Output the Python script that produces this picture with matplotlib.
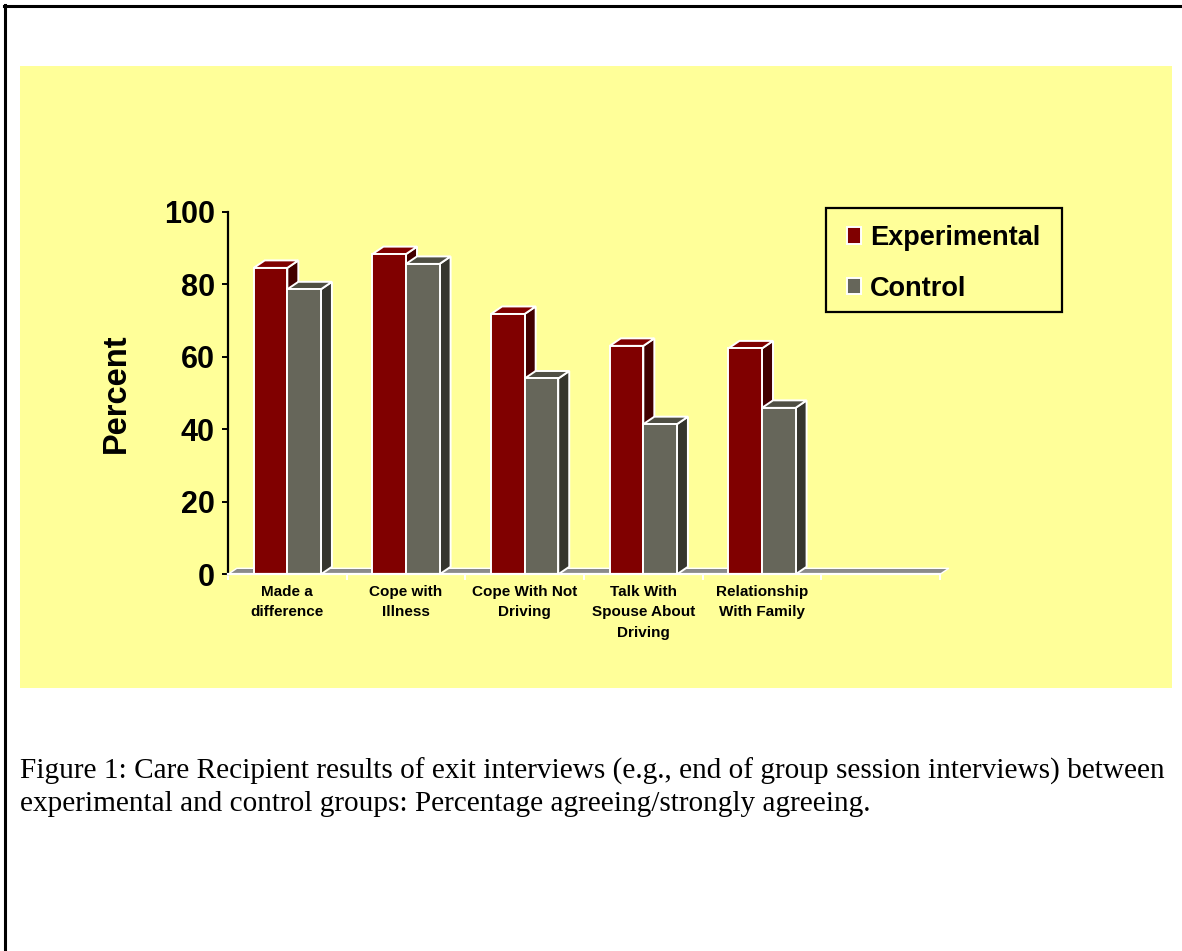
import numpy as np
import matplotlib
matplotlib.use("Agg")
import matplotlib.pyplot as plt
from matplotlib.patches import Polygon, Rectangle, Patch
from matplotlib.lines import Line2D

categories = ["Made a\ndifference", "Cope with\nIllness", "Cope With Not\nDriving",
              "Talk With\nSpouse About\nDriving", "Relationship\nWith Family", ""]
experimental = [84.5, 88.3, 71.8, 63.0, 62.3]
control = [78.6, 85.6, 54.0, 41.4, 45.9]
yticks = [0, 20, 40, 60, 80, 100]
series_names = ["Experimental", "Control"]
caption = ["Figure 1: Care Recipient results of exit interviews (e.g., end of group session interviews) between",
           "experimental and control groups: Percentage agreeing/strongly agreeing."]

W, H = 1182, 951
fig = plt.figure(figsize=(W / 100, H / 100), dpi=100)
fig.patch.set_facecolor("white")


def fx(px):
    return px / W


def fy(py):
    return 1 - py / H


sans = "Liberation Sans"

# page border (top + left) and yellow chart area
fig.add_artist(Line2D([fx(4), 1], [fy(6), fy(6)], color="black", lw=2.2, transform=fig.transFigure))
fig.add_artist(Line2D([fx(5), fx(5)], [fy(5), 0], color="black", lw=2.2, transform=fig.transFigure))
fig.add_artist(Rectangle((fx(20), fy(688)), fx(1172) - fx(20), fy(66) - fy(688),
                         transform=fig.transFigure, facecolor="#FFFF99", edgecolor="none", zorder=-1))

ax = fig.add_axes([fx(228), fy(574.3), (940 - 228) / W, (574.3 - 211.7) / H])
ax.set_facecolor("none")
ax.set_xlim(0, len(categories))
ax.set_ylim(0, 100)

# 3d depth in data units (about 11 px right, 7.5 px up)
dx = 11 / (712 / len(categories))
dy = 7.5 / 3.626
bw = 0.283

# floor
ax.add_patch(Polygon([(0, 0), (len(categories), 0), (len(categories) + dx * 0.8, dy * 0.8), (dx * 0.8, dy * 0.8)],
                     closed=True, facecolor="#8a8a8a", edgecolor="white", lw=1.0, zorder=1, clip_on=False))


def bar3d(vals, offset, front, top, side, z):
    centers = np.arange(len(vals)) + 0.5
    bars = ax.bar(centers + offset, vals, bw, align="edge", color=front, edgecolor="white",
                  linewidth=1.4, zorder=z + 1)
    for b in bars:
        x0, x1, h = b.get_x(), b.get_x() + b.get_width(), b.get_height()
        ax.add_patch(Polygon([(x1, 0), (x1 + dx, dy), (x1 + dx, h + dy), (x1, h)], closed=True,
                             facecolor=side, edgecolor="white", lw=1.4, zorder=z, clip_on=False))
        ax.add_patch(Polygon([(x0, h), (x1, h), (x1 + dx, h + dy), (x0 + dx, h + dy)], closed=True,
                             facecolor=top, edgecolor="white", lw=1.4, zorder=z, clip_on=False))
    return bars


bar3d(experimental, -bw, "#800000", "#800000", "#420000", 2)
bar3d(control, 0.0, "#66665A", "#4F4F44", "#35352E", 4)

# axes styling
for s in ["top", "right"]:
    ax.spines[s].set_visible(False)
ax.spines["left"].set_color("black")
ax.spines["left"].set_linewidth(1.6)
ax.spines["bottom"].set_color("white")
ax.spines["bottom"].set_linewidth(1.6)
ax.spines["bottom"].set_zorder(8)

ax.set_yticks(yticks)
ax.set_yticklabels([str(t) for t in yticks], fontfamily=sans, fontweight="bold", fontsize=22)
ax.tick_params(axis="y", direction="out", length=4.5, width=1.4, color="black", pad=5)

ax.set_xticks(np.arange(len(categories) + 1))
ax.set_xticklabels([])
ax.tick_params(axis="x", which="major", direction="out", length=4, width=1.4, color="white")
ax.set_xticks(np.arange(len(categories)) + 0.5, minor=True)
ax.set_xticklabels(categories, minor=True, fontfamily=sans, fontweight="bold", fontsize=11,
                   linespacing=1.6)
ax.tick_params(axis="x", which="minor", length=0, pad=7.5)

ax.set_ylabel("Percent", fontfamily=sans, fontweight="bold", fontsize=23.5)
ax.yaxis.set_label_coords((132 - 228) / 712, 0.5)

# legend
fig.add_artist(Rectangle((fx(825.7), fy(311.7)), fx(1061.7) - fx(825.7), fy(208.3) - fy(311.7),
                         transform=fig.transFigure, facecolor="none", edgecolor="black", lw=1.6, zorder=5))
handles = [Patch(facecolor="#800000", edgecolor="white", lw=1.4),
           Patch(facecolor="#66665A", edgecolor="white", lw=1.4)]
ax.legend(handles, series_names, loc="upper left", bbox_to_anchor=(fx(846.5), fy(225)),
          bbox_transform=fig.transFigure, frameon=False, borderpad=0, borderaxespad=0,
          prop=dict(family=sans, weight="bold", size=19.5), labelspacing=0.92,
          handlelength=0.55, handleheight=0.55, handletextpad=0.33)

# caption
fig.text(fx(20), fy(779), caption[0], fontfamily="Liberation Serif", fontsize=21.1, va="baseline")
fig.text(fx(20), fy(811), caption[1], fontfamily="Liberation Serif", fontsize=21.1, va="baseline")

fig.savefig("out.png", dpi=100)
